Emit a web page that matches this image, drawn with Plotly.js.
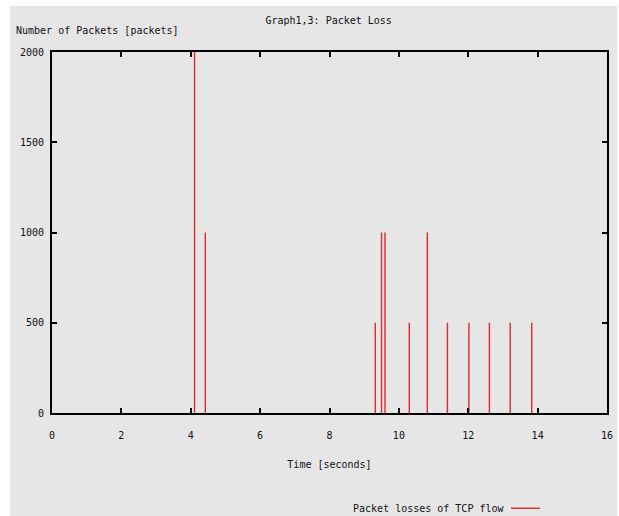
<!DOCTYPE html>
<html>
<head>
<meta charset="utf-8">
<script src="https://cdn.plot.ly/plotly-3.0.1.min.js"></script>
<style>
  html, body { margin: 0; padding: 0; background: #ffffff; }
  #chart { position: absolute; left: 10px; top: 6px; width: 607px; height: 510px; }
</style>
</head>
<body>
<div id="chart"></div>
<script>
// ---- data ----
const lossTimes = [4.11, 4.42, 9.32, 9.50, 9.60, 10.30, 10.82, 11.40, 12.02, 12.61, 13.21, 13.83];
const lossPackets = [2000, 1000, 500, 1000, 1000, 500, 1000, 500, 500, 500, 500, 500];
const xTicks = [0, 2, 4, 6, 8, 10, 12, 14, 16];
const yTicks = [0, 500, 1000, 1500, 2000];
const seriesName = 'Packet losses of TCP flow';
const chartTitle = 'Graph1,3: Packet Loss';
const xTitle = 'Time [seconds]';
const yTitle = 'Number of Packets [packets]';

// impulses: vertical line from 0 to value for each point
const ix = [], iy = [];
lossTimes.forEach((t, i) => { ix.push(t, t, null); iy.push(0, lossPackets[i], null); });

const FONT = 'DejaVu Sans Mono, Liberation Mono, monospace';
const RED = 'rgb(228,40,40)';
const TXT = '#111111';

const trace = {
  x: ix, y: iy, type: 'scatter', mode: 'lines', name: seriesName,
  line: { color: RED, width: 1.4 }, showlegend: false, hoverinfo: 'skip'
};

const layout = {
  width: 607, height: 510,
  paper_bgcolor: '#e6e6e6', plot_bgcolor: '#e6e6e6',
  margin: { l: 42, r: 10, t: 46, b: 103 },
  font: { family: FONT, size: 10, color: TXT },
  title: { text: chartTitle, x: 0.525, xanchor: 'center', y: 1 - 14 / 510, yanchor: 'middle', font: { family: FONT, size: 10, color: TXT } },
  xaxis: {
    range: [0, 16], tickvals: xTicks, ticktext: xTicks.map(String),
    ticks: 'inside', ticklen: 5, tickwidth: 2, tickcolor: '#000',
    showline: true, linewidth: 2, linecolor: '#000', mirror: 'ticks',
    showgrid: false, zeroline: false, ticklabelstandoff: 12,
    tickfont: { family: FONT, size: 10, color: TXT },
    title: { text: xTitle, standoff: 21, font: { family: FONT, size: 10, color: TXT } },
    fixedrange: true
  },
  yaxis: {
    range: [0, 2000], tickvals: yTicks, ticktext: yTicks.map(String),
    ticks: 'inside', ticklen: 5, tickwidth: 2, tickcolor: '#000',
    showline: true, linewidth: 2, linecolor: '#000', mirror: 'ticks',
    showgrid: false, zeroline: false, ticklabelstandoff: 4,
    tickfont: { family: FONT, size: 10, color: TXT },
    fixedrange: true
  },
  annotations: [
    { text: yTitle, xref: 'paper', yref: 'paper', x: -38 / 555, y: 1 + 21 / 360, xanchor: 'left', yanchor: 'middle', showarrow: false, font: { family: FONT, size: 10, color: TXT } },
    { text: seriesName, xref: 'paper', yref: 'paper', x: (496 - 42) / 555, y: -95 / 360, xanchor: 'right', yanchor: 'middle', showarrow: false, font: { family: FONT, size: 10, color: TXT } }
  ],
  shapes: [
    { type: 'line', xref: 'paper', yref: 'paper', x0: (501 - 42) / 555, x1: (530 - 42) / 555, y0: -95 / 360, y1: -95 / 360, line: { color: RED, width: 1.4 } }
  ]
};

Plotly.newPlot('chart', [trace], layout, { staticPlot: true, displayModeBar: false });
</script>
</body>
</html>
